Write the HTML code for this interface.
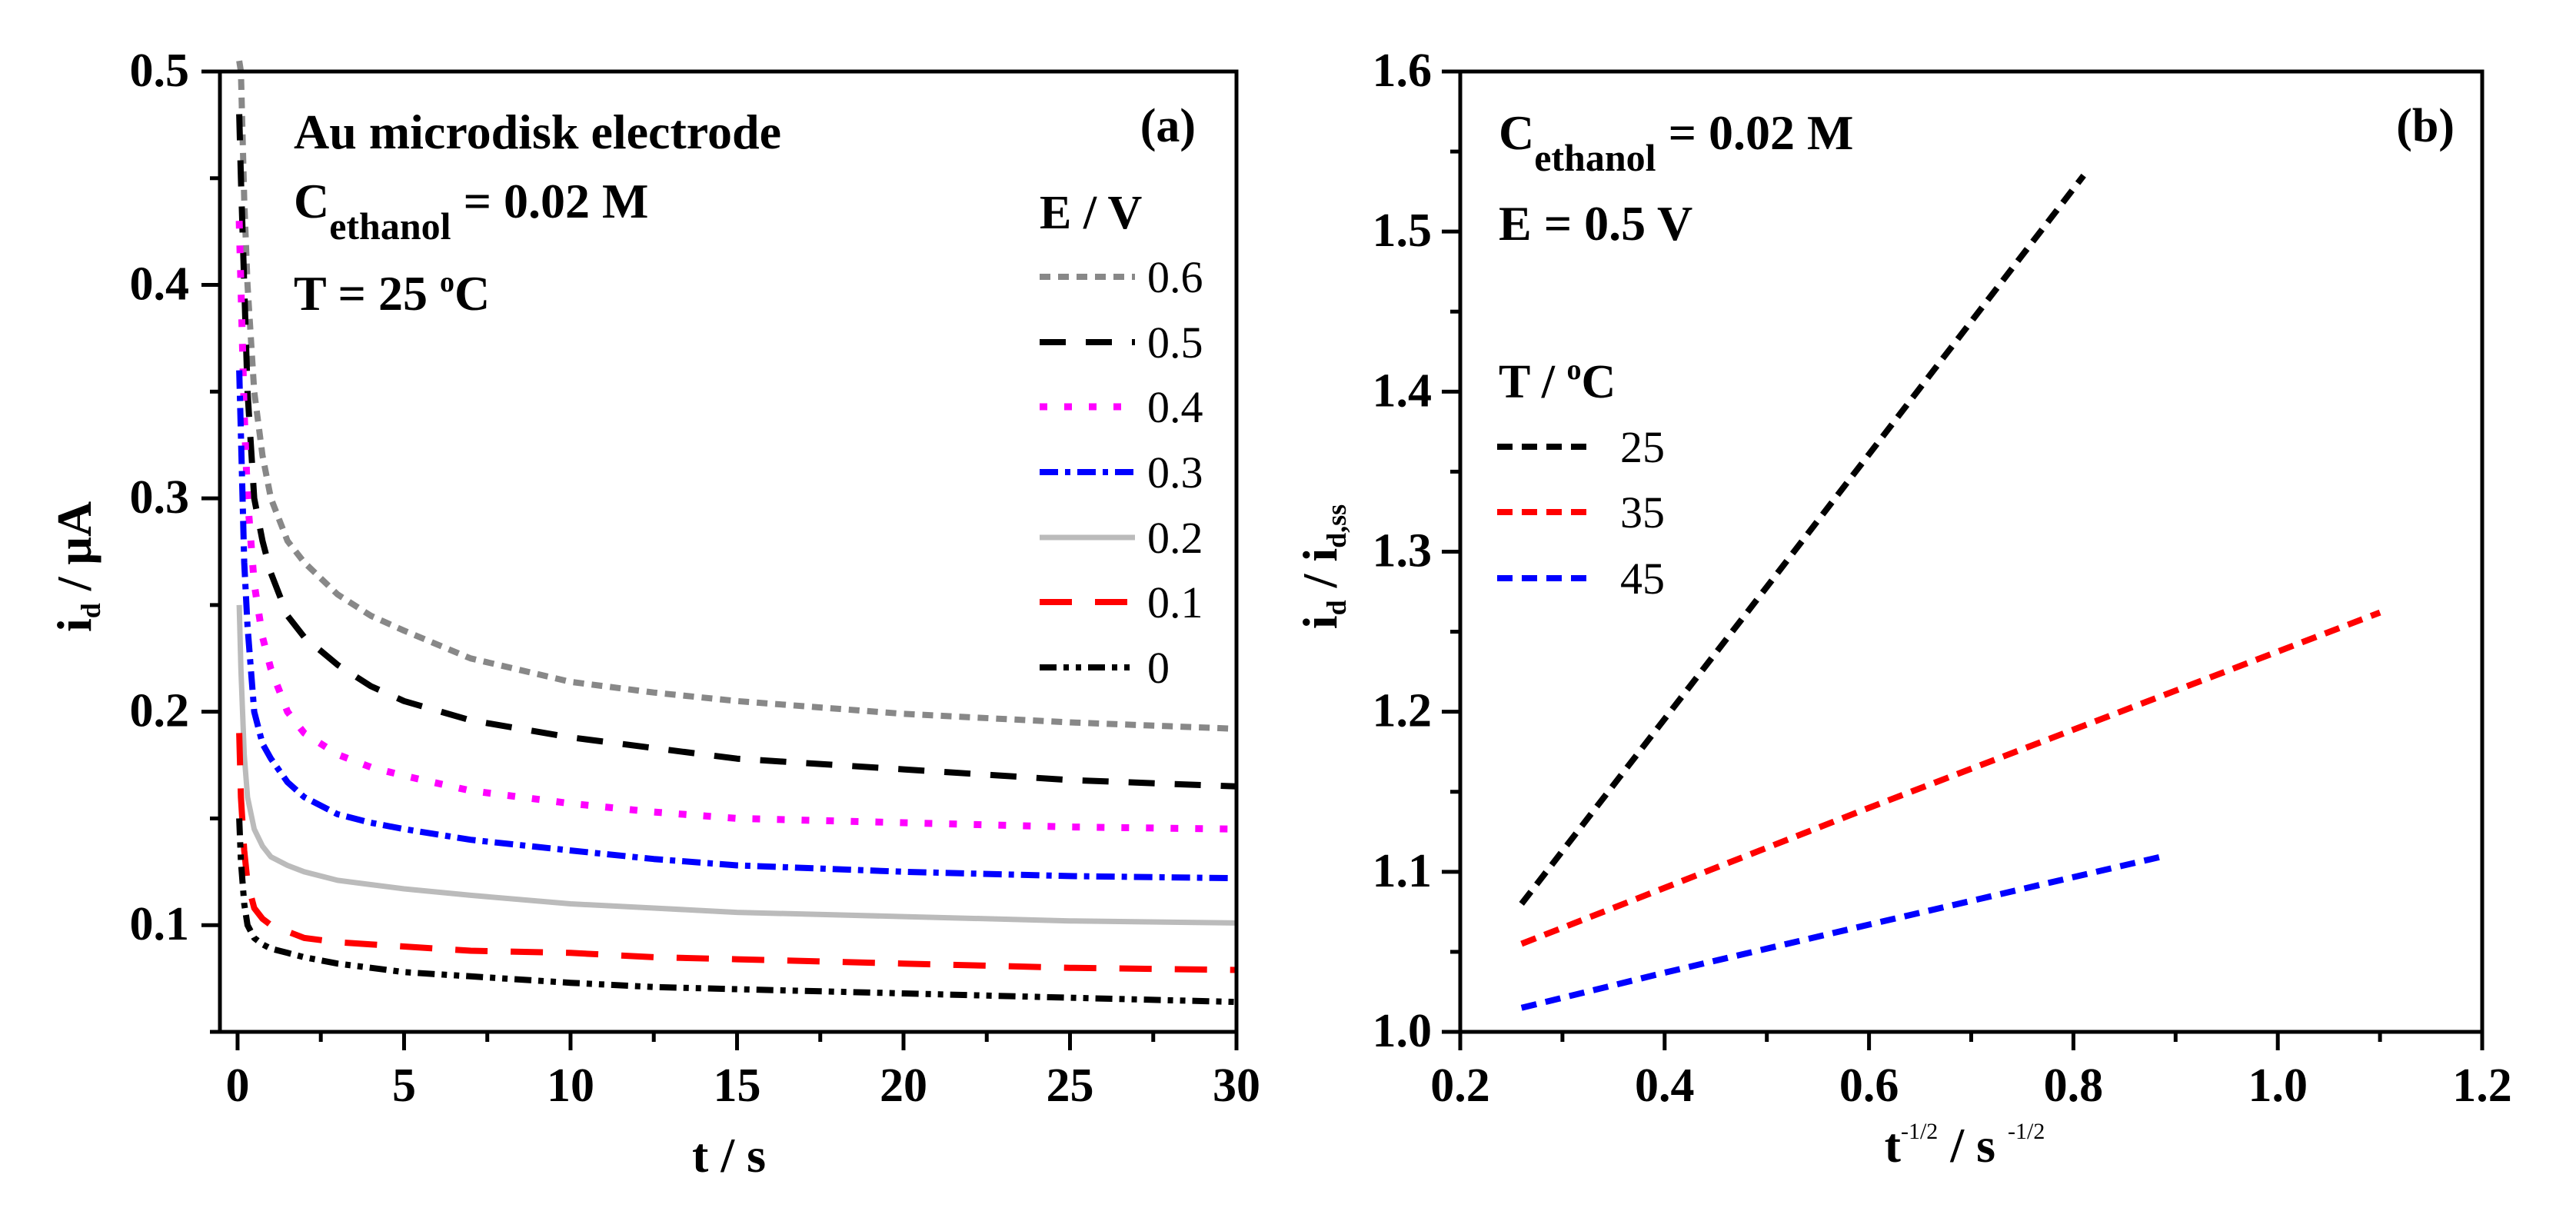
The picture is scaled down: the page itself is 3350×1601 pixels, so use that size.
<!DOCTYPE html>
<html><head><meta charset="utf-8"><style>
html,body{margin:0;padding:0;background:#fff;}
svg{display:block;}
text{font-family:"Liberation Serif",serif;}
</style></head>
<body>
<svg id="fig" width="3350" height="1601" viewBox="0 0 3350 1601" xmlns="http://www.w3.org/2000/svg">
<rect width="3350" height="1601" fill="#fff"/>
<g id="pa"></g>
<g id="pb"></g>
</svg>
<script>
// ---- Panel (a) data ----
const aTimes = [0.05, 0.1, 0.2, 0.3, 0.5, 0.75, 1, 1.5, 2, 3, 4, 5, 7, 10, 12.5, 15, 20, 25, 30];
const aLabels = ["0.6","0.5","0.4","0.3","0.2","0.1","0"];
const a06 = [0.52,0.50,0.44,0.40,0.35,0.32,0.30,0.28,0.27,0.255,0.245,0.238,0.225,0.214,0.209,0.205,0.199,0.195,0.192];
const a05 = [0.48,0.45,0.40,0.35,0.30,0.28,0.265,0.245,0.235,0.222,0.212,0.205,0.196,0.188,0.183,0.178,0.173,0.168,0.165];
const a04 = [0.43,0.40,0.34,0.30,0.26,0.235,0.22,0.20,0.19,0.18,0.174,0.17,0.163,0.157,0.153,0.15,0.148,0.146,0.145];
const a03 = [0.36,0.33,0.27,0.24,0.20,0.185,0.178,0.167,0.16,0.152,0.148,0.145,0.14,0.135,0.131,0.128,0.125,0.123,0.122];
const a02 = [0.25,0.22,0.18,0.16,0.145,0.137,0.132,0.128,0.125,0.121,0.119,0.117,0.114,0.11,0.108,0.106,0.104,0.102,0.101];
const a01 = [0.19,0.16,0.135,0.12,0.108,0.103,0.1,0.097,0.094,0.092,0.091,0.09,0.088,0.087,0.085,0.084,0.082,0.08,0.079];
const a00 = [0.15,0.13,0.11,0.1,0.094,0.091,0.089,0.087,0.085,0.082,0.08,0.078,0.076,0.073,0.071,0.07,0.068,0.066,0.064];
const aXTicks = [0,5,10,15,20,25,30];
const aYTicks = [0.1,0.2,0.3,0.4,0.5];
// ---- Panel (b) data ----
const bLabels = ["25","35","45"];
const bX25 = [0.26, 0.5, 0.81];
const bY25 = [1.08, 1.278, 1.535];
const bX35 = [0.26, 0.6, 1.1];
const bY35 = [1.055, 1.14, 1.262];
const bX45 = [0.26, 0.4, 0.6, 0.89];
const bY45 = [1.015, 1.037, 1.067, 1.11];
const bXTicks = [0.2,0.4,0.6,0.8,1.0,1.2];
const bYTicks = [1.0,1.1,1.2,1.3,1.4,1.5,1.6];

const NS="http://www.w3.org/2000/svg";
function mk(parent,tag,attrs,txt){const e=document.createElementNS(NS,tag);for(const k in attrs)e.setAttribute(k,attrs[k]);if(txt!==undefined)e.textContent=txt;parent.appendChild(e);return e;}

// panel a axes
const A={l:286,r:1608,t:93,b:1342,x0:-0.53,x1:30,y0:0.05,y1:0.5};
const ax=v=>A.l+(v-A.x0)/(A.x1-A.x0)*(A.r-A.l);
const ay=v=>A.b-(v-A.y0)/(A.y1-A.y0)*(A.b-A.t);
const B={l:1899,r:3228,t:93,b:1342,x0:0.2,x1:1.2,y0:1.0,y1:1.6};
const bx=v=>B.l+(v-B.x0)/(B.x1-B.x0)*(B.r-B.l);
const by=v=>B.b-(v-B.y0)/(B.y1-B.y0)*(B.b-B.t);

const pa=document.getElementById('pa');
const pb=document.getElementById('pb');

// panel a series
const aSeries=[a06,a05,a04,a03,a02,a01,a00];
const aStyles=[
 {c:"#888888",d:"14 10",w:8},
 {c:"#000000",d:"34 26",w:8},
 {c:"#ff00ff",d:"10 22",w:9},
 {c:"#0000ff",d:"24 9 7 9",w:8},
 {c:"#bbbbbb",d:"none",w:7},
 {c:"#ff0000",d:"42 30",w:8},
 {c:"#000000",d:"22 9 7 9 7 9",w:8}
];
aSeries.forEach((s,i)=>{
  const pts=aTimes.map((t,j)=>ax(t).toFixed(1)+","+ay(Math.min(s[j],0.505)).toFixed(1)).join(" ");
  const p=mk(pa,"polyline",{points:pts,fill:"none",stroke:aStyles[i].c,"stroke-width":aStyles[i].w,"stroke-dasharray":aStyles[i].d,"stroke-linejoin":"round"});
  
  
});
// frame a
let f=mk(pa,"rect",{x:A.l,y:A.t,width:A.r-A.l,height:A.b-A.t,fill:"none",stroke:"#000","stroke-width":5});

// ticks a
for(let v=0;v<=30;v+=2.5){const x=ax(v);const major=(v%5===0);const t=mk(pa,"line",{x1:x,y1:A.b,x2:x,y2:A.b+(major?24:13),stroke:"#000","stroke-width":5});
 }
aXTicks.forEach(v=>{const t=mk(pa,"text",{x:ax(v),y:1432,"font-size":62,"font-weight":"bold","text-anchor":"middle"},String(v));
 });
for(let k=0;k<=9;k++){const v=0.05+k*0.05;const y=ay(v);const major=(k%2===1);const t=mk(pa,"line",{x1:A.l,y1:y,x2:A.l-(major?24:13),y2:y,stroke:"#000","stroke-width":5});
 }
aYTicks.forEach(v=>{const t=mk(pa,"text",{x:246,y:ay(v)+19,"font-size":62,"font-weight":"bold","text-anchor":"end"},v.toFixed(1));
 });
// legend a
const aRows=[360,445,529,614,699,783,868];
aLabels.forEach((lab,i)=>{
 const l=mk(pa,"line",{x1:1352,y1:aRows[i],x2:1476,y2:aRows[i],stroke:aStyles[i].c,"stroke-width":aStyles[i].w,"stroke-dasharray":aStyles[i].d});
 
 const t=mk(pa,"text",{x:1492,y:aRows[i]+20,"font-size":58},lab);
 
});

// panel b series
const bSeries=[[bX25,bY25,"#000000"],[bX35,bY35,"#ff0000"],[bX45,bY45,"#0000ff"]];
bSeries.forEach((s,i)=>{
 const pts=s[0].map((x,j)=>bx(x).toFixed(1)+","+by(s[1][j]).toFixed(1)).join(" ");
 const p=mk(pb,"polyline",{points:pts,fill:"none",stroke:s[2],"stroke-width":8,"stroke-dasharray":"20 12"});
 
});
f=mk(pb,"rect",{x:B.l,y:B.t,width:B.r-B.l,height:B.b-B.t,fill:"none",stroke:"#000","stroke-width":5});

for(let k=0;k<=10;k++){const x=bx(0.2+k*0.1);const major=(k%2===0);const t=mk(pb,"line",{x1:x,y1:B.b,x2:x,y2:B.b+(major?24:13),stroke:"#000","stroke-width":5});
 }
bXTicks.forEach(v=>{const t=mk(pb,"text",{x:bx(v),y:1432,"font-size":62,"font-weight":"bold","text-anchor":"middle"},v.toFixed(1));
 });
for(let k=0;k<=12;k++){const y=by(1.0+k*0.05);const major=(k%2===0);const t=mk(pb,"line",{x1:B.l,y1:y,x2:B.l-(major?24:13),y2:y,stroke:"#000","stroke-width":5});
 }
bYTicks.forEach(v=>{const t=mk(pb,"text",{x:1862,y:by(v)+19,"font-size":62,"font-weight":"bold","text-anchor":"end"},v.toFixed(1));
 });
const bRows=[581,666,752];
bLabels.forEach((lab,i)=>{
 const l=mk(pb,"line",{x1:1947,y1:bRows[i],x2:2073,y2:bRows[i],stroke:bSeries[i][2],"stroke-width":8,"stroke-dasharray":"20 12"});
 
 const t=mk(pb,"text",{x:2107,y:bRows[i]+20,"font-size":58},lab);
 
});
</script>
<!-- static annotations -->
<svg width="3350" height="1601" style="position:absolute;left:0;top:0" xmlns="http://www.w3.org/2000/svg">
<g font-family="Liberation Serif, serif" font-weight="bold" fill="#000">
<text x="382" y="193" font-size="64">Au microdisk electrode</text>
<text x="382" y="283" font-size="64">C<tspan font-size="50" dy="28">ethanol</tspan><tspan dy="-28"> = 0.02 M</tspan></text>
<text x="382" y="403" font-size="64">T = 25 <tspan font-size="38" dy="-24">o</tspan><tspan dy="24">C</tspan></text>
<text x="1555" y="184" font-size="62" text-anchor="end">(a)</text>
<text x="1352" y="297" font-size="62">E / V</text>
<text x="948" y="1524" font-size="64" text-anchor="middle">t / s</text>
<text transform="translate(118,737) rotate(-90)" font-size="64" text-anchor="middle">i<tspan font-size="36" dy="12">d</tspan><tspan dy="-12"> / μA</tspan></text>

<text x="1949" y="194" font-size="64">C<tspan font-size="50" dy="28">ethanol</tspan><tspan dy="-28"> = 0.02 M</tspan></text>
<text x="1949" y="312" font-size="64">E = 0.5 V</text>
<text x="3192" y="184" font-size="62" text-anchor="end">(b)</text>
<text x="1949" y="517" font-size="62">T / <tspan font-size="38" dy="-24">o</tspan><tspan dy="24">C</tspan></text>
<text x="2555" y="1511" font-size="64" text-anchor="middle">t<tspan font-size="30" font-weight="normal" dy="-30">-1/2</tspan><tspan dy="30"> / s </tspan><tspan font-size="30" font-weight="normal" dy="-30">-1/2</tspan></text>
<text transform="translate(1738,737) rotate(-90)" font-size="64" text-anchor="middle">i<tspan font-size="36" dy="12">d</tspan><tspan dy="-12"> / i</tspan><tspan font-size="36" dy="12">d,ss</tspan></text>
</g>
</svg>
</body></html>
